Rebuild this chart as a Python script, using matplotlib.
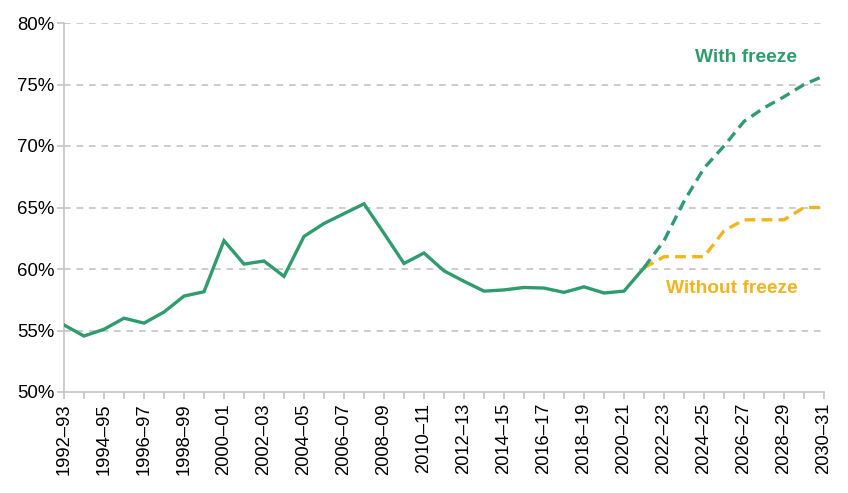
import matplotlib
matplotlib.use("Agg")
import matplotlib.pyplot as plt
import numpy as np

plt.rcParams['font.family'] = ['Liberation Sans', 'DejaVu Sans']

start_years = list(range(1992, 2031))
labels = [f"{y}\u2013{str(y+1)[-2:]}" for y in start_years]

# Outturn (1992-93 to 2021-22)
history = [55.45, 54.55, 55.1, 56.0, 55.6, 56.5, 57.8, 58.15, 62.3, 60.4,
           60.65, 59.4, 62.65, 63.7, 64.5, 65.3, 62.9, 60.45, 61.3, 59.85,
           59.0, 58.2, 58.3, 58.5, 58.45, 58.1, 58.55, 58.05, 58.2, 60.1]
# Projections (2021-22 to 2030-31)
with_freeze = [60.1, 62.3, 65.5, 68.2, 70.0, 72.0, 73.1, 74.0, 75.0, 75.7]
without_freeze = [60.1, 61.0, 61.0, 61.0, 63.1, 64.0, 64.0, 64.0, 65.0, 65.0]

green = '#2f9c6e'
yellow = '#f0b41e'
grey = '#c4c4c4'

fig = plt.figure(figsize=(8.48, 4.93), dpi=100)
ax = fig.add_axes([64/848, 1-392/493, (824-64)/848, (392-23)/493])

x_hist = np.arange(len(history))
x_proj = np.arange(len(history)-1, len(history)-1+len(with_freeze))

ax.plot(x_proj, without_freeze, color=yellow, lw=2.4, dashes=(3.2, 1.9), zorder=3)
ax.plot(x_proj, with_freeze, color=green, lw=2.4, dashes=(3.2, 1.9), zorder=4)
ax.plot(x_hist, history, color=green, lw=2.4, zorder=5, solid_joinstyle='miter')

ax.set_xlim(0, len(start_years)-1)
ax.set_ylim(50, 80)
ax.set_yticks(np.arange(50, 81, 5))
ax.set_yticklabels([f"{v}%" for v in range(50, 81, 5)], fontsize=13.4)
ax.set_xticks(np.arange(len(start_years)))
ax.set_xticklabels([l if i % 2 == 0 else '' for i, l in enumerate(labels)],
                   rotation=90, fontsize=13.2)

for v in range(55, 81, 5):
    ax.axhline(v, color=grey, lw=1.2, dashes=(4, 3.5), zorder=1)

for s in ['top', 'right']:
    ax.spines[s].set_visible(False)
for s in ['left', 'bottom']:
    ax.spines[s].set_color(grey)
    ax.spines[s].set_linewidth(1.2)
ax.tick_params(axis='both', color=grey, width=1.2, length=5, labelcolor='black')
ax.tick_params(axis='y', pad=2)
ax.tick_params(axis='x', pad=3)

ax.text(34.1, 77.2, 'With freeze', color=green, fontsize=13.8, fontweight='bold',
        ha='center', va='center')
ax.text(33.4, 58.4, 'Without freeze', color=yellow, fontsize=13.8, fontweight='bold',
        ha='center', va='center')

fig.savefig('out.png', dpi=100)
